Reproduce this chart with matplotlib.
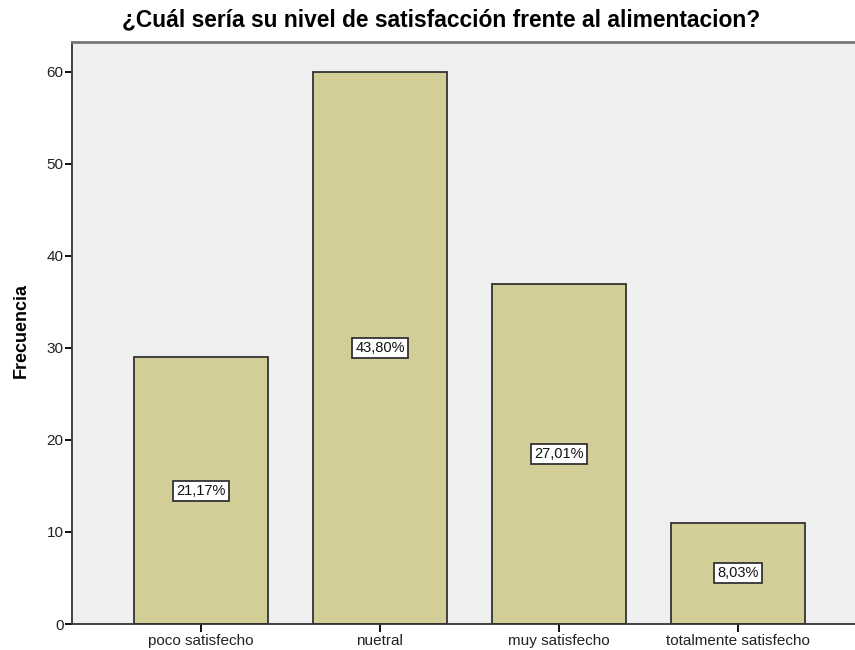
import matplotlib
matplotlib.use("Agg")
import matplotlib.pyplot as plt

categories = ["poco satisfecho", "nuetral", "muy satisfecho", "totalmente satisfecho"]
counts = [29, 60, 37, 11]
pct_labels = ["21,17%", "43,80%", "27,01%", "8,03%"]
yticks = [0, 10, 20, 30, 40, 50, 60]

plt.rcParams['font.family'] = ['Liberation Sans', 'DejaVu Sans']

fig = plt.figure(figsize=(8.55, 6.5), dpi=100)
W, H = 855, 650
left, right, top, bottom = 72, 867, 42, 624
ax = fig.add_axes([left / W, 1 - bottom / H, (right - left) / W, (bottom - top) / H])
ax.set_facecolor("#EFEFEF")

x = list(range(len(categories)))
ax.bar(x, counts, width=0.75, color="#D3CE97", edgecolor="#333333", linewidth=1.3, zorder=2)
for xi, c, lab in zip(x, counts, pct_labels):
    ax.text(xi, c / 2, lab, ha="center", va="center", fontsize=10.5, color="#111111", zorder=3,
            bbox=dict(boxstyle="square,pad=0.2", facecolor="white", edgecolor="#333333", linewidth=1.3))

ax.set_xlim(-0.72, 3.72)
ax.set_ylim(0, 63.26)
ax.set_yticks(yticks)
ax.set_xticks(x)
ax.set_xticklabels(categories, fontsize=11, color="#222222")
ax.tick_params(axis="y", labelsize=11, length=5, width=1.3, direction="out", pad=1, labelcolor="#222222")
ax.tick_params(axis="x", length=6, width=1.3, direction="out", pad=1.5)
for s in ["left", "bottom"]:
    ax.spines[s].set_color("#333333")
    ax.spines[s].set_linewidth(1.3)
ax.spines["top"].set_color("#777777")
ax.spines["top"].set_linewidth(2)
ax.spines["right"].set_visible(False)

fig.text(21 / W, 1 - 330 / H, "Frecuencia", rotation=90, ha="center", va="center",
         fontsize=13, fontweight="bold")
fig.text(441 / W, 1 - 20 / H, "¿Cuál sería su nivel de satisfacción frente al alimentacion?",
         ha="center", va="center", fontsize=16.4, fontweight="bold")

fig.savefig("out.png", dpi=100)
